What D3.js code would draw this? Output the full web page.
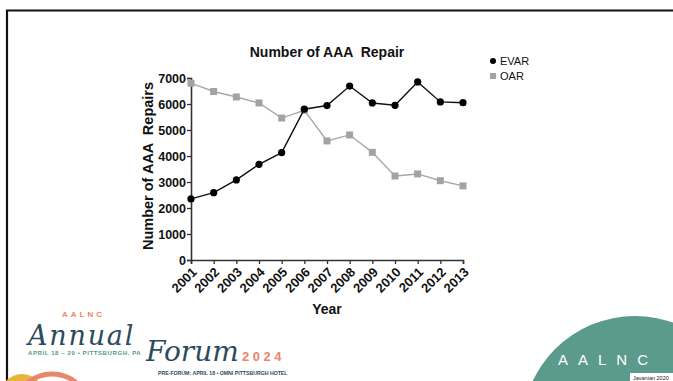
<!DOCTYPE html>
<html>
<head>
<meta charset="utf-8">
<script src="https://cdn.jsdelivr.net/npm/d3@7"></script>
<style>
  html, body { margin: 0; padding: 0; background: #fff; }
  svg { display: block; }
  text { font-family: "Liberation Sans", Arial, sans-serif; }
</style>
</head>
<body>
<svg id="chart" width="673" height="381"></svg>
<script>
// Annual AAA repairs by technique
const years = [2001, 2002, 2003, 2004, 2005, 2006, 2007, 2008, 2009, 2010, 2011, 2012, 2013];
const evar = [2350, 2590, 3080, 3680, 4130, 5800, 5940, 6690, 6040, 5950, 6850, 6080, 6050];
const oar  = [6800, 6480, 6270, 6040, 5460, 5760, 4580, 4810, 4140, 3230, 3310, 3050, 2850];
const yTicks = [0, 1000, 2000, 3000, 4000, 5000, 6000, 7000];
const seriesNames = ["EVAR", "OAR"];

const svg = d3.select("#chart");

// slide frame
svg.append("path")
  .attr("d", "M7,381 V10.5 H673")
  .attr("fill", "none").attr("stroke", "#111").attr("stroke-width", 2.2);

const x = d3.scalePoint().domain(years).range([191, 463]);
const y = d3.scaleLinear().domain([0, 7000]).range([260, 78]);

// axes
const yAxis = svg.append("g").attr("transform", "translate(191,0)")
  .call(d3.axisLeft(y).tickValues(yTicks).tickSize(4).tickPadding(1).tickFormat(d3.format("d")));
const xAxis = svg.append("g").attr("transform", "translate(0,260)")
  .call(d3.axisBottom(x).tickSize(4).tickFormat(d3.format("d")));

[yAxis, xAxis].forEach(g => {
  g.select(".domain").attr("stroke", "#333").attr("stroke-width", 1.6);
  g.selectAll(".tick line").attr("stroke", "#333").attr("stroke-width", 1.3);
  g.selectAll("text").attr("fill", "#111").style("font-weight", "bold")
    .style("font-size", "12.5px").style("font-family", "'Liberation Sans', Arial, sans-serif");
});
xAxis.selectAll(".tick text")
  .style("font-size", "13px")
  .attr("text-anchor", "end")
  .attr("dy", null).attr("y", null)
  .attr("transform", "translate(6,13) rotate(-45)");

// series lines
const line = (vals) => d3.line().x((d, i) => x(years[i])).y(d => y(d))(vals);

svg.append("path").attr("d", line(oar))
  .attr("fill", "none").attr("stroke", "#a8a8a8").attr("stroke-width", 1.4);
svg.append("g").selectAll("rect").data(oar).join("rect")
  .attr("x", (d, i) => x(years[i]) - 3.5).attr("y", d => y(d) - 3.5)
  .attr("width", 7).attr("height", 7).attr("fill", "#a3a3a3");

svg.append("path").attr("d", line(evar))
  .attr("fill", "none").attr("stroke", "#111").attr("stroke-width", 1.4);
svg.append("g").selectAll("circle").data(evar).join("circle")
  .attr("cx", (d, i) => x(years[i])).attr("cy", d => y(d))
  .attr("r", 3.6).attr("fill", "#000");

// titles
svg.append("text").attr("x", 327).attr("y", 57).attr("text-anchor", "middle")
  .style("font-weight", "bold").style("font-size", "14px").style("white-space", "pre")
  .attr("fill", "#111").text("Number of AAA  Repair");
svg.append("text").attr("transform", "translate(153,166) rotate(-90)").attr("text-anchor", "middle")
  .style("font-weight", "bold").style("font-size", "14.5px").style("white-space", "pre")
  .attr("fill", "#111").text("Number of AAA  Repairs");
svg.append("text").attr("x", 327).attr("y", 314).attr("text-anchor", "middle")
  .style("font-weight", "bold").style("font-size", "14px")
  .attr("fill", "#111").text("Year");

// legend
const legend = svg.append("g");
legend.append("circle").attr("cx", 493).attr("cy", 61).attr("r", 3).attr("fill", "#000");
legend.append("rect").attr("x", 490).attr("y", 73).attr("width", 6).attr("height", 6).attr("fill", "#a3a3a3");
legend.selectAll("text").data(seriesNames).join("text")
  .attr("x", 500).attr("y", (d, i) => 65 + i * 15)
  .style("font-size", "11px").attr("fill", "#111").text(d => d);

// footer: forum logo
const foot = svg.append("g");
foot.append("circle").attr("cx", 22).attr("cy", 396).attr("r", 22).attr("fill", "#e8b43a");
foot.append("circle").attr("cx", 52).attr("cy", 412).attr("r", 38)
  .attr("fill", "none").attr("stroke", "#e8876a").attr("stroke-width", 5);
foot.append("text").attr("x", 62).attr("y", 317).attr("fill", "#e8876a")
  .style("font-size", "8px").style("font-weight", "bold").style("letter-spacing", "3px").text("AALNC");
foot.append("text").attr("x", 28).attr("y", 345).attr("fill", "#2d4b5c")
  .style("font-family", "'DejaVu Serif', serif").style("font-style", "italic")
  .style("font-size", "27px").style("letter-spacing", "1.8px").text("Annual");
foot.append("text").attr("x", 28).attr("y", 355).attr("fill", "#4f9a86")
  .style("font-size", "6px").style("font-weight", "bold").style("letter-spacing", "0.6px")
  .text("APRIL 18 – 20  •  PITTSBURGH, PA");
foot.append("text").attr("x", 146).attr("y", 361).attr("fill", "#2d4b5c")
  .style("font-family", "'DejaVu Serif', serif").style("font-style", "italic")
  .style("font-size", "28px").text("Forum");
foot.append("text").attr("x", 242).attr("y", 361).attr("fill", "#e8876a")
  .style("font-size", "13px").style("font-weight", "bold").style("letter-spacing", "3.5px").text("2024");
foot.append("text").attr("x", 158).attr("y", 375).attr("fill", "#2d4b5c")
  .style("font-size", "5.2px").style("font-weight", "bold")
  .text("PRE-FORUM: APRIL 18  •  OMNI PITTSBURGH HOTEL");

// footer: association badge
foot.append("circle").attr("cx", 635).attr("cy", 429).attr("r", 113).attr("fill", "#5b9b8e");
foot.append("text").attr("x", 558).attr("y", 365).attr("fill", "#fff")
  .style("font-size", "15px").style("letter-spacing", "10px").text("AALNC");
foot.append("rect").attr("x", 630).attr("y", 373).attr("width", 43).attr("height", 8).attr("fill", "#fff");
foot.append("text").attr("x", 633).attr("y", 380).attr("fill", "#222")
  .style("font-size", "5.5px").text("Javanian 2020");
</script>
</body>
</html>
